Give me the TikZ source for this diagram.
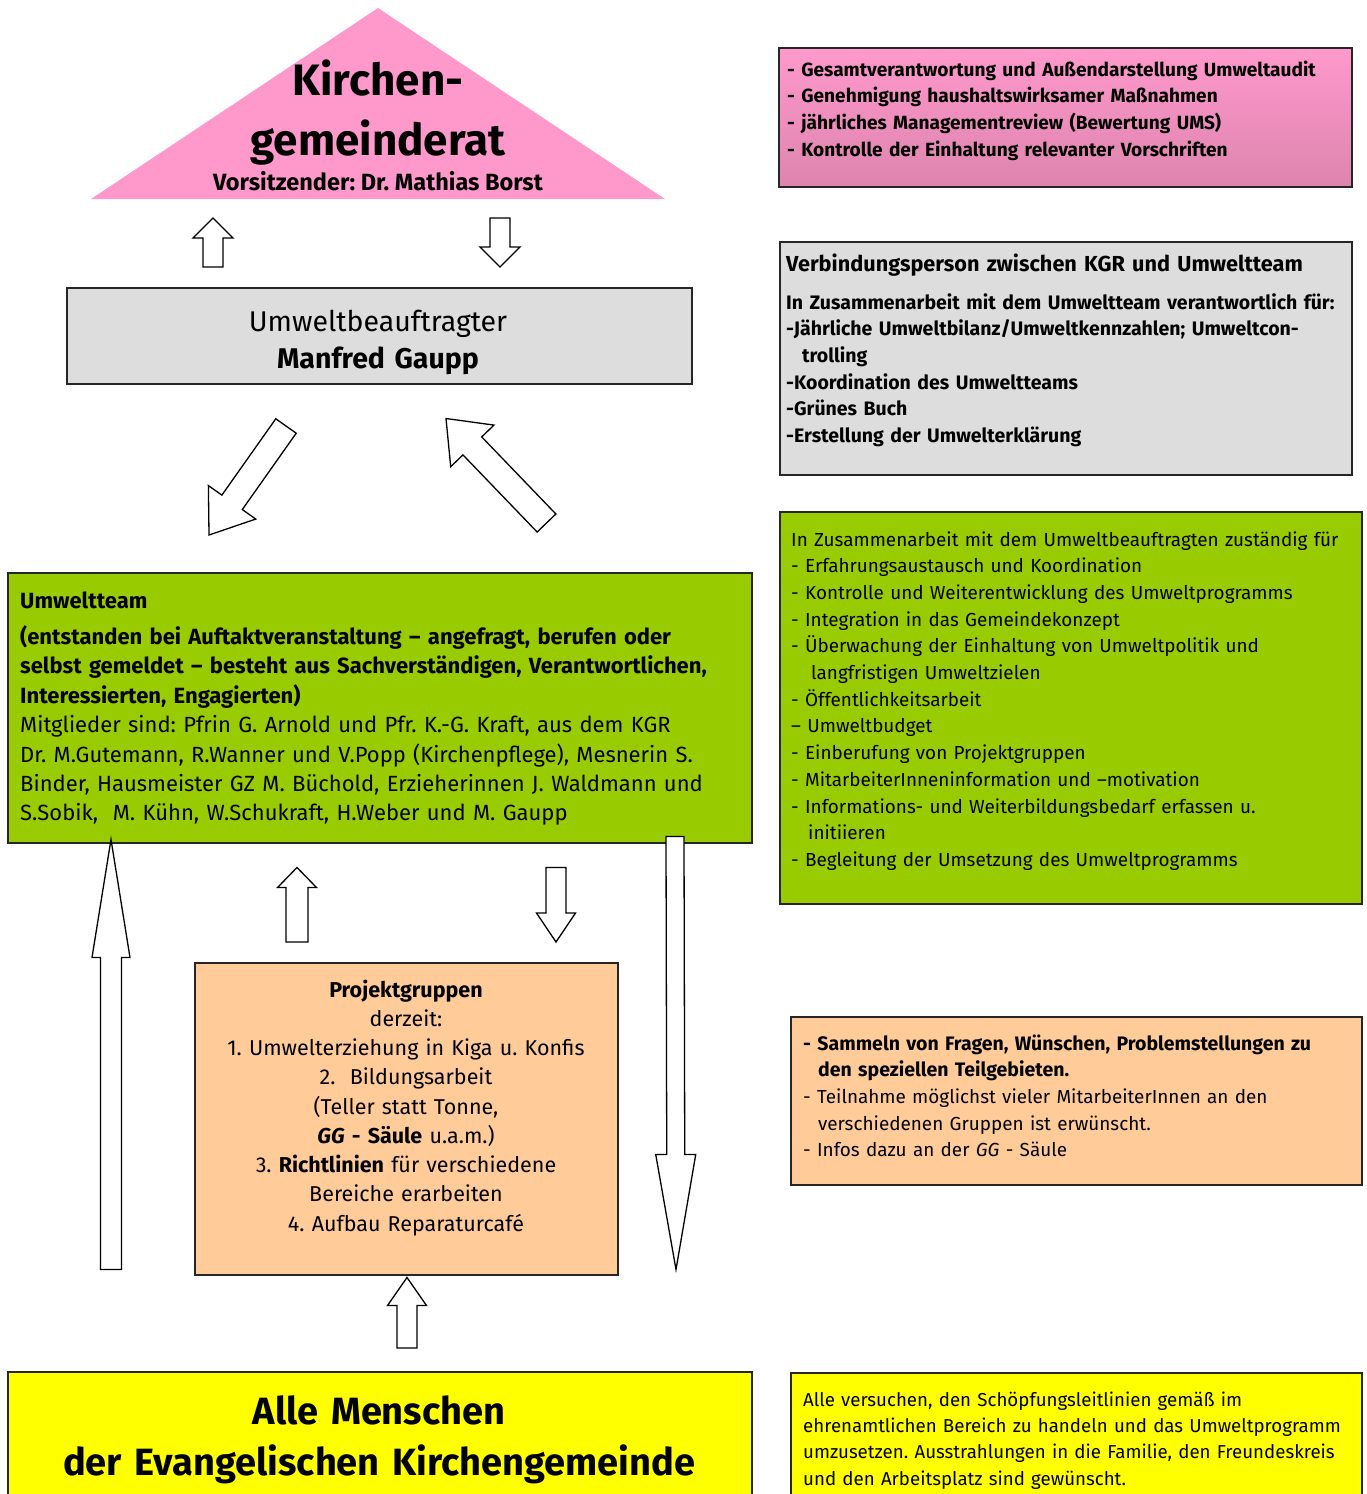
\documentclass[tikz,border=0pt]{standalone}
\usepackage{fontspec}
\setmainfont{Fira Sans}
\usetikzlibrary{calc}
\definecolor{kgrpink}{HTML}{FF99CC}
\definecolor{kgrpinkdark}{HTML}{DD84AE}
\definecolor{boxgray}{HTML}{DDDDDD}
\definecolor{teamgreen}{HTML}{99CC00}
\definecolor{projorange}{HTML}{FFCC99}
\definecolor{allyellow}{HTML}{FFFF00}
\frenchspacing

% block arrow: tail, tip, half shaft, half head, head length
\newcommand{\fatarrow}[5]{%
  \coordinate (fa-h) at ($(#2)!#5!(#1)$);
  \draw[blockarrow] ($(#1)!#3!90:(#2)$) -- ($(fa-h)!#3!-90:(#1)$) -- ($(fa-h)!#4!-90:(#1)$)
    -- (#2) -- ($(fa-h)!#4!90:(#1)$) -- ($(fa-h)!#3!90:(#1)$) -- ($(#1)!#3!-90:(#2)$) -- cycle;
}

\begin{document}
\begin{tikzpicture}[x=1pt,y=-1pt,
  orgbox/.style={draw=black!85, line width=1.5pt, anchor=north west, inner sep=0pt},
  txt/.style={inner sep=0pt, anchor=base west, align=left},
  ctxt/.style={inner sep=0pt, anchor=base, align=center},
  blockarrow/.style={draw=black, line width=1.3pt, fill=white, line join=miter}]
\path[use as bounding box] (0,0) rectangle (1367,1494);

% Kirchengemeinderat
\fill[kgrpink] (91,199) coordinate (kgrleft) -- (378,8) coordinate (kgrtop) -- (665,199) coordinate (kgrright) -- cycle;
\node[ctxt, text width=500pt, font=\bfseries\fontsize{44}{60}\selectfont] (kgrname) at (378,95) {Kirchen-\\gemeinderat};
\node[ctxt, font=\bfseries\fontsize{23.5}{26}\selectfont] (kgrchair) at (378,190) {Vorsitzender: Dr. Mathias Borst};

% left column
\node[orgbox, fill=boxgray, minimum width=625pt, minimum height=96pt] (umwb) at (66,287) {};
\node[ctxt, text width=600pt, font=\fontsize{28.5}{37}\selectfont] (umwbname) at ($(umwb.north west)+(312,44)$)
  {Umweltbeauftragter\\\textbf{Manfred Gaupp}};

\node[orgbox, fill=teamgreen, minimum width=744pt, minimum height=270pt] (team) at (7,572) {};
\node[txt, text width=730pt, font=\fontsize{22}{29.4}\selectfont] (teamtext) at ($(team.north west)+(13,36)$)
  {\textbf{Umweltteam}\\[7pt]
   \textbf{(entstanden bei Auftaktveranstaltung – angefragt, berufen oder}\\
   \textbf{selbst gemeldet – besteht aus Sachverständigen, Verantwortlichen,}\\
   \textbf{Interessierten, Engagierten)}\\
   Mitglieder sind: Pfrin G. Arnold und Pfr. K.-G. Kraft, aus dem KGR\\
   Dr. M.Gutemann, R.Wanner und V.Popp (Kirchenpflege), Mesnerin S.\\
   Binder, Hausmeister GZ M. Büchold, Erzieherinnen J. Waldmann und\\
   S.Sobik,\ \ M. Kühn, W.Schukraft, H.Weber und M. Gaupp};

\node[orgbox, fill=projorange, minimum width=423pt, minimum height=312pt] (proj) at (194,962) {};
\node[ctxt, text width=420pt, font=\fontsize{21.5}{29.25}\selectfont] (projtext) at ($(proj.north west)+(212,35)$)
  {\textbf{Projektgruppen}\\
   derzeit:\\
   1. Umwelterziehung in Kiga u. Konfis\\
   2.\ \ Bildungsarbeit\\
   (Teller statt Tonne,\\
   \textbf{\textit{GG} - Säule} u.a.m.)\\
   3. \textbf{Richtlinien} für verschiedene\\
   Bereiche erarbeiten\\
   4. Aufbau Reparaturcafé};

\node[orgbox, fill=allyellow, minimum width=744pt, minimum height=150pt] (alle) at (7,1371) {};
\node[ctxt, text width=740pt, font=\bfseries\fontsize{38}{51}\selectfont] (alletext) at ($(alle.north west)+(372,53)$)
  {Alle Menschen\\der Evangelischen Kirchengemeinde};

% right column
\node[orgbox, top color=kgrpink, bottom color=kgrpinkdark, minimum width=573pt, minimum height=139pt] (kgrtasks) at (778,47) {};
\node[txt, text width=560pt, font=\bfseries\fontsize{19.1}{26.7}\selectfont] (kgrtaskstext) at ($(kgrtasks.north west)+(9,29)$)
  {- Gesamtverantwortung und Außendarstellung Umweltaudit\\
   - Genehmigung haushaltswirksamer Maßnahmen\\
   - jährliches Managementreview (Bewertung UMS)\\
   - Kontrolle der Einhaltung relevanter Vorschriften};

\node[orgbox, fill=boxgray, minimum width=572pt, minimum height=233pt] (umwbtasks) at (779,241) {};
\node[txt, text width=560pt, font=\bfseries\fontsize{21.7}{28}\selectfont] (umwbtitle) at ($(umwbtasks.north west)+(7,30)$)
  {Verbindungsperson zwischen KGR und Umweltteam};
\node[txt, text width=560pt, font=\bfseries\fontsize{19.5}{26.7}\selectfont] (umwbtaskstext) at ($(umwbtasks.north west)+(7,68)$)
  {In Zusammenarbeit mit dem Umweltteam verantwortlich für:\\
   -Jährliche Umweltbilanz/Umweltkennzahlen; Umweltcon-\\
   \hspace*{16pt}trolling\\
   -Koordination des Umweltteams\\
   -Grünes Buch\\
   -Erstellung der Umwelterklärung};

\node[orgbox, fill=teamgreen, minimum width=582pt, minimum height=392pt] (teamtasks) at (779,511) {};
\node[txt, text width=575pt, font=\fontsize{18.9}{26.7}\selectfont] (teamtaskstext) at ($(teamtasks.north west)+(12,35)$)
  {In Zusammenarbeit mit dem Umweltbeauftragten zuständig für\\
   - Erfahrungsaustausch und Koordination\\
   - Kontrolle und Weiterentwicklung des Umweltprogramms\\
   - Integration in das Gemeindekonzept\\
   - Überwachung der Einhaltung von Umweltpolitik und\\
   \hspace*{20pt}langfristigen Umweltzielen\\
   - Öffentlichkeitsarbeit\\
   – Umweltbudget\\
   - Einberufung von Projektgruppen\\
   - MitarbeiterInneninformation und –motivation\\
   - Informations- und Weiterbildungsbedarf erfassen u.\\
   \hspace*{17pt}initiieren\\
   - Begleitung der Umsetzung des Umweltprogramms};

\node[orgbox, fill=projorange, minimum width=571pt, minimum height=168pt] (projtasks) at (790,1016) {};
\node[txt, text width=560pt, font=\fontsize{18.9}{26.7}\selectfont] (projtaskstext) at ($(projtasks.north west)+(13,34)$)
  {\textbf{\fontsize{19.5}{26.7}\selectfont - Sammeln von Fragen, Wünschen, Problemstellungen zu}\\
   \hspace*{15pt}\textbf{\fontsize{19.5}{26.7}\selectfont den speziellen Teilgebieten.}\\
   - Teilnahme möglichst vieler MitarbeiterInnen an den\\
   \hspace*{15pt}verschiedenen Gruppen ist erwünscht.\\
   - Infos dazu an der \textit{GG} - Säule};

\node[orgbox, fill=allyellow, minimum width=571pt, minimum height=150pt] (alletasks) at (790,1372) {};
\node[txt, text width=565pt, font=\fontsize{18.7}{26.4}\selectfont] (alletaskstext) at ($(alletasks.north west)+(13,34)$)
  {Alle versuchen, den Schöpfungsleitlinien gemäß im\\
   ehrenamtlichen Bereich zu handeln und das Umweltprogramm\\
   umzusetzen. Ausstrahlungen in die Familie, den Freundeskreis\\
   und den Arbeitsplatz sind gewünscht.};

% arrows
\coordinate (a1) at ($(umwb.north west)+(147,-20)$);
\coordinate (a1t) at ($(a1)+(0,-49)$);
\coordinate (a2t) at ($(umwb.north west)+(434,-20)$);
\coordinate (a2) at ($(a2t)+(0,-49)$);
\coordinate (a3) at ($(umwb.south west)+(220,41.5)$);
\coordinate (a3t) at ($(team.north west)+(202,-37)$);
\coordinate (a4t) at ($(umwb.south west)+(380,34)$);
\coordinate (a4) at ($(team.north west)+(539.5,-49)$);
\coordinate (a5t) at ($(team.south west)+(104,-4)$);
\coordinate (a5) at ($(a5t)+(0,430)$);
\coordinate (a6t) at ($(team.south west)+(290,24)$);
\coordinate (a6) at ($(proj.north west)+(103,-20)$);
\coordinate (a7) at ($(team.south west)+(549,24)$);
\coordinate (a7t) at ($(proj.north west)+(362,-20)$);
\coordinate (a8) at ($(team.south west)+(668,-7)$);
\coordinate (a8t) at ($(a8)+(1,433)$);
\coordinate (a9t) at ($(proj.south west)+(213,2)$);
\coordinate (a9) at ($(alle.north west)+(400,-23)$);

\fatarrow{a1}{a1t}{10pt}{20pt}{20pt}
\fatarrow{a2}{a2t}{10pt}{20pt}{20pt}
\fatarrow{a3}{a3t}{12.5pt}{29pt}{40pt}
\fatarrow{a4}{a4t}{13pt}{30pt}{38pt}
\fatarrow{a5}{a5t}{10.5pt}{19pt}{118pt}
\fatarrow{a6}{a6t}{11pt}{19.5pt}{20pt}
\fatarrow{a7}{a7t}{10pt}{19.5pt}{29pt}
\fatarrow{a8}{a8t}{9pt}{20pt}{115pt}
\fatarrow{a9}{a9t}{10pt}{19.5pt}{28pt}
\end{tikzpicture}
\end{document}
